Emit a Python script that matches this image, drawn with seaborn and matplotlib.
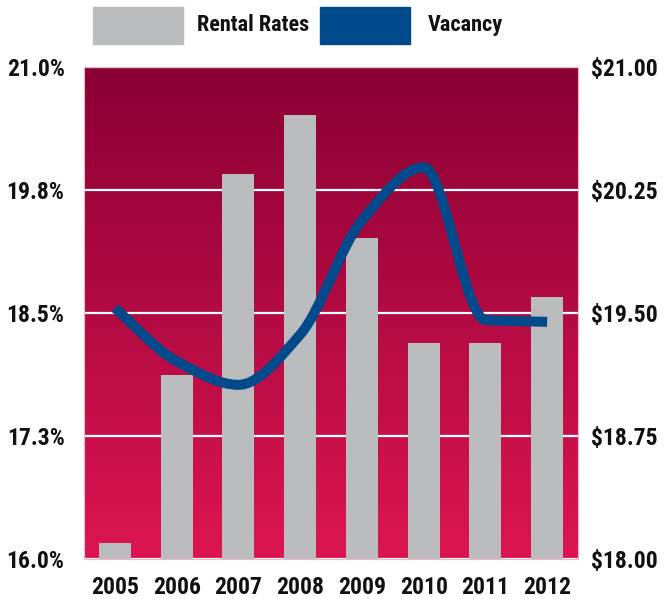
import numpy as np
import pandas as pd
import matplotlib
matplotlib.use("Agg")
import matplotlib.pyplot as plt
import seaborn as sns
from matplotlib import font_manager
from matplotlib.path import Path
from matplotlib.patches import PathPatch, Rectangle
from matplotlib.colors import LinearSegmentedColormap

years = ["2005", "2006", "2007", "2008", "2009", "2010", "2011", "2012"]
rental_rates = [18.10, 19.12, 20.35, 20.71, 19.96, 19.32, 19.32, 19.60]
vacancy = [18.55, 18.01, 17.77, 18.28, 19.44, 19.98, 18.43, 18.41]
vac_ticks = [16.0, 17.25, 18.5, 19.75, 21.0]
vac_labels = ["16.0%", "17.3%", "18.5%", "19.8%", "21.0%"]
rent_ticks = [18.0, 18.75, 19.5, 20.25, 21.0]
rent_labels = ["$18.00", "$18.75", "$19.50", "$20.25", "$21.00"]

sns.set_theme(style="white")
names = {f.name for f in font_manager.fontManager.ttflist}
fam = "DejaVu Sans"
stretch = "condensed"
for cand in ["Liberation Sans Narrow", "Roboto Condensed", "Open Sans Condensed"]:
    if cand in names:
        fam = cand
        stretch = "normal"
        break
plt.rcParams["font.family"] = [fam, "DejaVu Sans"]
plt.rcParams["font.stretch"] = stretch
plt.rcParams["font.weight"] = "bold"

W, H = 666, 599
fig = plt.figure(figsize=(W / 100, H / 100), dpi=100)
L, R, T, B = 84, 578, 67, 559
ax = fig.add_axes([L / W, 1 - B / H, (R - L) / W, (B - T) / H])

df = pd.DataFrame({"Year": years, "Rent": rental_rates})

# gradient background
cmap = LinearSegmentedColormap.from_list("bg", ["#DC1552", "#8A0034"])
grad = np.linspace(0, 1, 256).reshape(-1, 1)
ax.imshow(grad, aspect="auto", cmap=cmap, origin="lower",
          extent=[-0.5, 7.5, 18.0, 21.0], zorder=0)

sns.barplot(data=df, x="Year", y="Rent", color="#BBBCBE", width=0.52,
            saturation=1, ax=ax, zorder=2, linewidth=0, edgecolor="none")
ax.set_xlim(-0.5, 7.5)
ax.set_ylim(18.0, 21.0)
ax.set_axisbelow(True)
ax.set_yticks(rent_ticks)
ax.set_yticklabels(rent_labels)
ax.grid(axis="y", color="white", linewidth=1.6, zorder=1)
ax.grid(axis="x", visible=False)
ax.set_xlabel("")
ax.set_ylabel("")
for s in ax.spines.values():
    s.set_color("#F2B6C6")
    s.set_linewidth(0.8)

ax2 = ax.twinx()
ax2.set_ylim(16.0, 21.0)
ax2.set_yticks(vac_ticks)
ax2.set_yticklabels(vac_labels)
ax2.grid(False)
for s in ax2.spines.values():
    s.set_visible(False)

ax.yaxis.tick_right()
ax.tick_params(axis="y", left=False, labelleft=False, right=False, labelright=True)
ax2.yaxis.tick_left()
ax2.tick_params(axis="y", left=False, labelleft=True, right=False, labelright=False)

# smooth monotone (PCHIP) curve drawn as cubic Bezier path
x = np.arange(len(vacancy), dtype=float)
y = np.array(vacancy, dtype=float)
d = np.diff(y)
m = np.zeros_like(y)
for i in range(1, len(y) - 1):
    if d[i - 1] * d[i] > 0:
        m[i] = 2.0 / (1.0 / d[i - 1] + 1.0 / d[i])
m[0] = d[0]
m[-1] = d[-1]
verts = [(x[0], y[0])]
codes = [Path.MOVETO]
for i in range(len(y) - 1):
    verts += [(x[i] + 1 / 3, y[i] + m[i] / 3),
              (x[i + 1] - 1 / 3, y[i + 1] - m[i + 1] / 3),
              (x[i + 1], y[i + 1])]
    codes += [Path.CURVE4] * 3
patch = PathPatch(Path(verts, codes), facecolor="none", edgecolor="#004A8C",
                  linewidth=7.2, capstyle="butt", joinstyle="round", zorder=5)
ax2.add_patch(patch)
ax2.set_xlim(-0.5, 7.5)

for a in (ax, ax2):
    a.tick_params(axis="both", length=0, labelsize=17, labelcolor="#111111")
ax.tick_params(axis="x", pad=12)
ax.tick_params(axis="y", pad=9)
ax2.tick_params(axis="y", pad=14)

# legend
fig.add_artist(Rectangle((93 / W, 1 - 44 / H), 90 / W, 37 / H,
                         transform=fig.transFigure, color="#BBBCBE"))
fig.add_artist(Rectangle((320 / W, 1 - 44 / H), 90 / W, 37 / H,
                         transform=fig.transFigure, color="#004A8C"))
fig.text(197 / W, 1 - 25 / H, "Rental Rates", fontsize=16, color="#111111",
         va="center", ha="left")
fig.text(428 / W, 1 - 25 / H, "Vacancy", fontsize=16, color="#111111",
         va="center", ha="left")

fig.savefig("out.png", dpi=100, facecolor="white")
